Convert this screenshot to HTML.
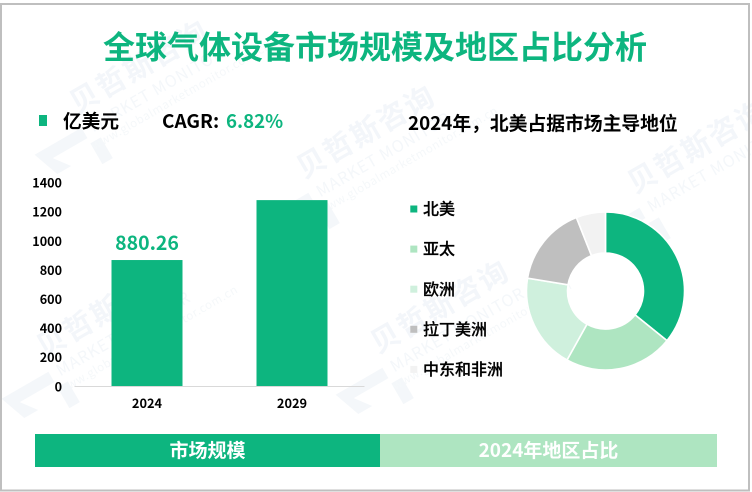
<!DOCTYPE html>
<html lang="zh-CN">
<head>
<meta charset="utf-8">
<title>全球气体设备市场规模及地区占比分析</title>
<style>
html,body{margin:0;padding:0;background:#fff;}
body{width:752px;height:492px;overflow:hidden;}
svg{display:block;overflow:hidden;font-family:"Liberation Sans","Noto Sans CJK SC",sans-serif;}
.cjk{font-family:"Noto Sans CJK SC","Liberation Sans",sans-serif;}
.wm-a{font-size:29px;font-weight:700;fill:#f3f6fa;letter-spacing:2px;}
.wm-b{font-size:16px;fill:#f4f7fa;letter-spacing:1px;}
.wm-c{font-size:11.5px;fill:#f5f8fa;letter-spacing:.6px;}
</style>
</head>
<body>
<svg id="chart" width="752" height="492" viewBox="0 0 752 492" xmlns="http://www.w3.org/2000/svg">
  <rect x="0" y="0" width="752" height="492" fill="#fff"/>

  <g class="cjk">
    <g transform="translate(85,98) rotate(-30)">
      <polygon points="-72,24 -18,24 -18,36 -58,36 -46,52 -62,52" fill="#f4f7fa"/><polygon points="-18,42 -6,42 -6,66 -18,66" fill="#f4f7fa"/><text class="wm-a" x="-15" y="10">贝哲斯咨询</text><text class="wm-b" x="-10" y="34">MARKET MONITOR</text><text class="wm-c" x="-18" y="50">www.globalmarketmonitor.com.cn</text>
    </g>
    <g transform="translate(312,163) rotate(-30)">
      <polygon points="-72,24 -18,24 -18,36 -58,36 -46,52 -62,52" fill="#f4f7fa"/><polygon points="-18,42 -6,42 -6,66 -18,66" fill="#f4f7fa"/><text class="wm-a" x="-15" y="10">贝哲斯咨询</text><text class="wm-b" x="-10" y="34">MARKET MONITOR</text><text class="wm-c" x="-18" y="50">www.globalmarketmonitor.com.cn</text>
    </g>
    <g transform="translate(643,178) rotate(-30)">
      <polygon points="-72,24 -18,24 -18,36 -58,36 -46,52 -62,52" fill="#f4f7fa"/><polygon points="-18,42 -6,42 -6,66 -18,66" fill="#f4f7fa"/><text class="wm-a" x="-15" y="10">贝哲斯咨询</text><text class="wm-b" x="-10" y="34">MARKET MONITOR</text>
    </g>
    <g transform="translate(52,342) rotate(-30)">
      <polygon points="-72,24 -18,24 -18,36 -58,36 -46,52 -62,52" fill="#f4f7fa"/><polygon points="-18,42 -6,42 -6,66 -18,66" fill="#f4f7fa"/><text class="wm-a" x="-15" y="10">贝哲斯咨询</text><text class="wm-b" x="-10" y="34">MARKET MONITOR</text><text class="wm-c" x="-18" y="50">www.globalmarketmonitor.com.cn</text>
    </g>
    <g transform="translate(386,338) rotate(-30)">
      <polygon points="-72,24 -18,24 -18,36 -58,36 -46,52 -62,52" fill="#f4f7fa"/><polygon points="-18,42 -6,42 -6,66 -18,66" fill="#f4f7fa"/><text class="wm-a" x="-15" y="10">贝哲斯咨询</text><text class="wm-b" x="-10" y="34">MARKET MONITOR</text><text class="wm-c" x="-18" y="50">www.globalmarketmonitor.com.cn</text>
    </g>
  </g>

  <rect x="1" y="4" width="748" height="486.5" fill="none" stroke="#bfbfbf" stroke-width="2"/>

  <text class="cjk" x="375" y="58.5" text-anchor="middle" font-size="32" font-weight="700" fill="#0db57f">全球气体设备市场规模及地区占比分析</text>

  <rect x="39" y="115" width="8" height="11" fill="#0db57f"/>
  <text class="cjk" x="63" y="128" font-size="18.7" font-weight="700" fill="#000">亿美元</text>
  <text class="cjk" x="162" y="128" font-size="19" font-weight="700" fill="#000">CAGR:</text>
  <text class="cjk" x="226" y="128" font-size="18.7" font-weight="700" fill="#0db57f">6.82%</text>

  <text class="cjk" x="408" y="130" font-size="18.8" font-weight="700" fill="#000">2024年，北美占据市场主导地位</text>

  <g id="bar-layer"></g>
  <g id="pie-layer"></g>
  <g id="legend-layer"></g>

  <rect x="35" y="434" width="345" height="33" fill="#0db57f"/>
  <text class="cjk" x="207.5" y="457" text-anchor="middle" font-size="19" font-weight="700" fill="#fff">市场规模</text>
  <rect x="380" y="434" width="337" height="33" fill="#aee5c1"/>
  <text class="cjk" x="548.5" y="457" text-anchor="middle" font-size="19" font-weight="700" fill="#fff">2024年地区占比</text>
</svg>

<script>
const categories = ['2024', '2029'];
const marketValues = [880.26, 1299];
const printedLabels = ['880.26', ''];
const tickValues = [0, 200, 400, 600, 800, 1000, 1200, 1400];
const tickLabels = ['0', '200', '400', '600', '800', '1000', '1200', '1400'];
const regions = ['北美', '亚太', '欧洲', '拉丁美洲', '中东和非洲'];
const regionShares = [35.8, 22.3, 19.5, 16.4, 6.0];

const NS = 'http://www.w3.org/2000/svg';
const CJK = '"Noto Sans CJK SC","Liberation Sans",sans-serif';
const GREEN = '#0db57f';
const PALETTE = ['#0db57f', '#aee5c1', '#cff0dd', '#bfbfbf', '#f2f2f2'];

function make(tag, attrs, parent, text) {
  const el = document.createElementNS(NS, tag);
  for (const k in attrs) el.setAttribute(k, attrs[k]);
  if (text !== undefined) el.textContent = text;
  parent.appendChild(el);
  return el;
}

/* ---------- bar chart axes ---------- */
const baseY = 386, plotLeft = 74.5, plotRight = 364.5;
const yScale = v => baseY - v * 0.1431;
const tickY = v => 386.7 - v * 0.1455;
const band = (plotRight - plotLeft) / categories.length;
const xCenter = i => plotLeft + band * (i + 0.5);
const barW = 71;

const barLayer = document.getElementById('bar-layer');

tickValues.forEach((v, i) => {
  const t = make('text', { x: 62, y: tickY(v) + 4.6, 'text-anchor': 'end', 'font-size': 12.6, 'font-weight': 700, fill: '#000', 'font-family': CJK }, barLayer, tickLabels[i]);
  
  
});

categories.forEach((c, i) => {
  const top = yScale(marketValues[i]);
  const r = make('rect', { x: xCenter(i) - barW / 2, y: top, width: barW, height: baseY - top, fill: GREEN }, barLayer);
  
  

  const t = make('text', { x: xCenter(i), y: 408, 'text-anchor': 'middle', 'font-size': 12.8, 'font-weight': 700, fill: '#000', 'font-family': CJK }, barLayer, c);
  
  

  if (printedLabels[i]) {
    const l = make('text', { x: xCenter(i), y: top - 10, 'text-anchor': 'middle', 'font-size': 19.5, 'font-weight': 700, fill: GREEN, 'font-family': CJK }, barLayer, printedLabels[i]);
    
    
  }
});

const axis = make('line', { x1: plotLeft, x2: plotRight, y1: baseY + 0.5, y2: baseY + 0.5, stroke: '#d9d9d9', 'stroke-width': 1 }, barLayer);



/* ---------- donut ---------- */
const cx = 605.5, cy = 291, rOuter = 79, rInner = 38;
const total = regionShares.reduce((a, b) => a + b, 0);
const angleOf = share => share / total * Math.PI * 2;
const polar = (r, a) => [cx + r * Math.sin(a), cy - r * Math.cos(a)];

const pieLayer = document.getElementById('pie-layer');
let cursor = 0;
regionShares.forEach((s, i) => {
  const a0 = cursor, a1 = cursor + angleOf(s);
  cursor = a1;
  const large = a1 - a0 > Math.PI ? 1 : 0;
  const p0 = polar(rOuter, a0), p1 = polar(rOuter, a1), p2 = polar(rInner, a1), p3 = polar(rInner, a0);
  const d = 'M' + p0.join(' ') + 'A' + rOuter + ' ' + rOuter + ' 0 ' + large + ' 1 ' + p1.join(' ') +
            'L' + p2.join(' ') + 'A' + rInner + ' ' + rInner + ' 0 ' + large + ' 0 ' + p3.join(' ') + 'Z';
  const slice = make('path', { d: d, fill: PALETTE[i], stroke: '#fff', 'stroke-width': 1.6 }, pieLayer);
  
  
});

/* ---------- legend ---------- */
const legendLayer = document.getElementById('legend-layer');
regions.forEach((name, i) => {
  const y = 209 + i * 40.1;
  const sw = make('rect', { x: 410.3, y: y - 3.5, width: 7, height: 7, fill: PALETTE[i] }, legendLayer);
  
  
  const t = make('text', { x: 423, y: y + 5.6, 'font-size': 16, 'font-weight': 500, fill: '#000', stroke: '#000', 'stroke-width': 0.25, 'font-family': CJK }, legendLayer, name);
  
  
});
</script>
</body>
</html>
